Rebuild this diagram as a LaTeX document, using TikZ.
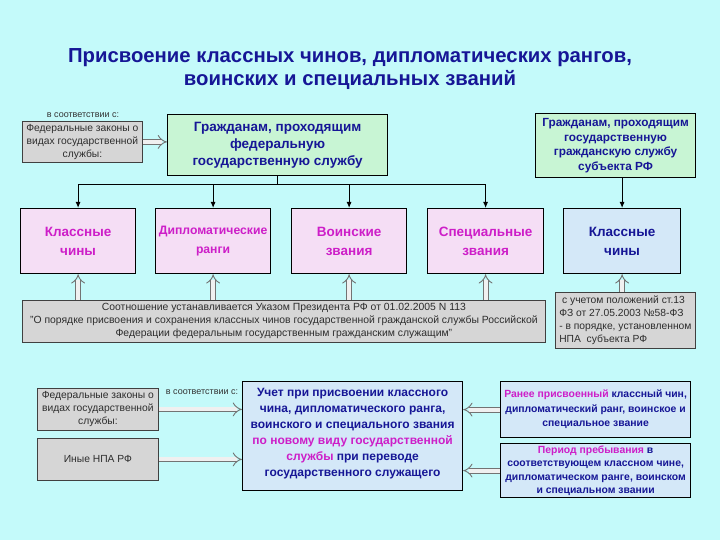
\documentclass[tikz,border=0pt]{standalone}
\usepackage{fontspec}
\setmainfont{Liberation Sans}
\usetikzlibrary{arrows.meta}
\definecolor{bg}{RGB}{196,250,250}
\definecolor{navy}{RGB}{22,22,150}
\definecolor{mag}{RGB}{205,30,200}
\definecolor{greenfill}{RGB}{200,245,212}
\definecolor{pinkfill}{RGB}{245,222,245}
\definecolor{bluefill}{RGB}{212,232,248}
\definecolor{grayfill}{RGB}{214,214,214}
\definecolor{graytext}{RGB}{45,45,45}
\newcommand{\fs}[2]{\fontsize{#1}{#2}\selectfont}
\tikzset{
  basebox/.style={draw=black, line width=1.2pt, anchor=north west, inner sep=1pt, align=center},
  greenbox/.style={basebox, fill=greenfill, text=navy, font=\bfseries},
  pinkbox/.style={basebox, fill=pinkfill, text=mag, font=\bfseries\fs{13.5}{19}},
  bluebox/.style={basebox, fill=bluefill, text=navy, font=\bfseries},
  graybox/.style={draw=black!75, line width=0.8pt, fill=grayfill, anchor=north west, inner sep=1pt, align=center, text=graytext},
  smalltext/.style={text=black!80, font=\fs{9}{11}},
  solidarrow/.style={draw=black, line width=1pt, -{Latex[length=6pt,width=5pt]}},
  hollowarrow/.style={draw=black!55, line width=0.9pt, double=white!94!black, double distance=4pt, -{Implies[length=7pt,width=16pt]}},
}
\begin{document}
\begin{tikzpicture}[x=1pt,y=-1pt]
\fill[bg] (0,0) rectangle (720,540);
\useasboundingbox (0,0) rectangle (720,540);

\node[text=navy, font=\bfseries\fs{20.3}{23}, align=center] (title) at (350,69.5)
  {Присвоение классных чинов, дипломатических рангов,\\воинских и специальных званий};

\node[smalltext] (noteA) at (83,115) {в соответствии с:};
\node[graybox, minimum width=120pt, minimum height=41pt, font=\fs{10.3}{13}] (lawA) at (22,121)
  {Федеральные законы о\\видах государственной\\службы:};
\node[greenbox, minimum width=220pt, minimum height=61pt, font=\bfseries\fs{13.5}{17}] (fed) at (167,114)
  {Гражданам, проходящим\\федеральную\\государственную службу};
\node[greenbox, minimum width=160pt, minimum height=64pt, font=\bfseries\fs{11.8}{14.5}] (subj) at (535,113)
  {Гражданам, проходящим\\государственную\\гражданскую службу\\субъекта РФ};

\node[pinkbox, minimum width=115pt, minimum height=65pt] (c1) at (20,208) {Классные\\чины};
\node[pinkbox, minimum width=115pt, minimum height=65pt, font=\bfseries\fs{12.2}{19}] (c2) at (155,208) {Дипломатические\\ранги};
\node[pinkbox, minimum width=115pt, minimum height=65pt] (c3) at (291,208) {Воинские\\звания};
\node[pinkbox, minimum width=116pt, minimum height=65pt] (c4) at (427,208) {Специальные\\звания};
\node[bluebox, minimum width=117pt, minimum height=65pt, font=\bfseries\fs{13.5}{19}] (c5) at (563,208) {Классные\\чины};

\node[graybox, minimum width=523pt, minimum height=42pt, font=\fs{10.4}{13}] (ukaz) at (22,300)
  {Соотношение устанавливается Указом Президента РФ от 01.02.2005 N 113\\
   "О порядке присвоения и сохранения классных чинов государственной гражданской службы Российской\\
   Федерации федеральным государственным гражданским служащим"};
\node[graybox, minimum width=140pt, minimum height=56pt, align=left, font=\fs{10.3}{13}] (subjnote) at (555,292)
  {\ с учетом положений ст.13\\ФЗ от 27.05.2003 №58-ФЗ\\- в порядке, установленном\\НПА\ \ субъекта РФ};

\node[graybox, minimum width=121pt, minimum height=42pt, font=\fs{10.3}{13}] (lawB) at (37,388)
  {Федеральные законы о\\видах государственной\\службы:};
\node[graybox, minimum width=121pt, minimum height=42pt, font=\fs{10.3}{13}] (inye) at (37,438)
  {Иные НПА РФ};
\node[smalltext] (noteB) at (202,392) {в соответствии с:};

\node[bluebox, minimum width=220pt, minimum height=109pt, font=\bfseries\fs{12}{16}, text depth=8pt] (uchet) at (242,381)
  {Учет при присвоении классного\\чина, дипломатического ранга,\\воинского и специального звания\\
   \textcolor{mag}{по новому виду государственной}\\\textcolor{mag}{службы} при переводе\\государственного служащего};
\node[bluebox, minimum width=190pt, minimum height=56pt, font=\bfseries\fs{10.4}{14.5}] (prev) at (500,381)
  {\textcolor{mag}{Ранее присвоенный} классный чин,\\дипломатический ранг, воинское и\\специальное звание};
\node[bluebox, minimum width=190pt, minimum height=54pt, font=\bfseries\fs{10.4}{13.5}] (period) at (500,443)
  {\textcolor{mag}{Период пребывания} в\\соответствующем классном чине,\\дипломатическом ранге, воинском\\и специальном звании};

% connectors
\draw[hollowarrow] (lawA.east) -- (lawA.east -| fed.west);
\coordinate (bar) at (fed.south |- 0,185);
\draw[line width=1pt] (fed.south) -- (bar);
\draw[solidarrow] (bar) -| (c1.north);
\draw[solidarrow] (bar) -| (c2.north);
\draw[solidarrow] (bar) -| (c3.north);
\draw[solidarrow] (bar) -| (c4.north);
\draw[solidarrow] (c5.north |- subj.south) -- (c5.north);

\draw[hollowarrow] (c1.south |- ukaz.north) -- (c1.south);
\draw[hollowarrow] (c2.south |- ukaz.north) -- (c2.south);
\draw[hollowarrow] (c3.south |- ukaz.north) -- (c3.south);
\draw[hollowarrow] (c4.south |- ukaz.north) -- (c4.south);
\draw[hollowarrow] (c5.south |- subjnote.north) -- (c5.south);

\draw[hollowarrow] (lawB.east) -- (lawB.east -| uchet.west);
\draw[hollowarrow] (inye.east) -- (inye.east -| uchet.west);
\draw[hollowarrow] (prev.west) -- (prev.west -| uchet.east);
\draw[hollowarrow] (period.west) -- (period.west -| uchet.east);
\end{tikzpicture}
\end{document}
